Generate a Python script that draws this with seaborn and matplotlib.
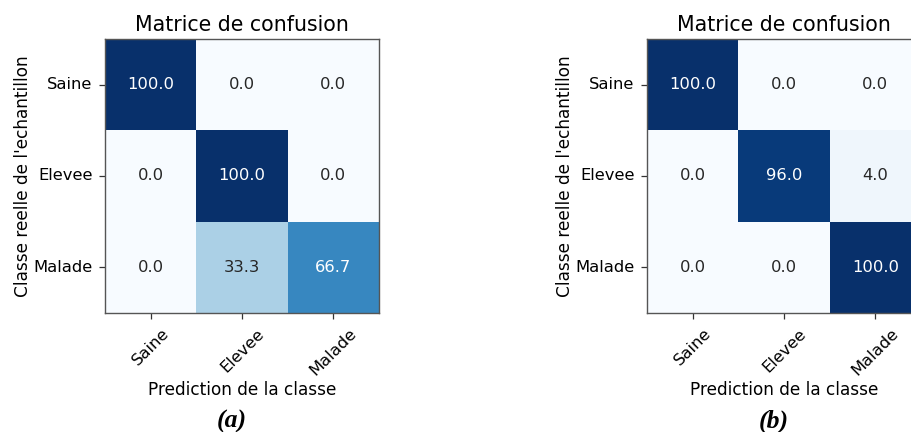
import numpy as np
import matplotlib
matplotlib.use("Agg")
import matplotlib.pyplot as plt
import seaborn as sns

classes = ["Saine", "Elevee", "Malade"]

# Row-normalised confusion matrices (percent)
cm_a = [[100.0, 0.0, 0.0],
        [0.0, 100.0, 0.0],
        [0.0, 33.3, 66.7]]
cm_b = [[100.0, 0.0, 0.0],
        [0.0, 96.0, 4.0],
        [0.0, 0.0, 100.0]]

panel_labels = ["(a)", "(b)"]

sns.set_style("white")
plt.rcParams["font.family"] = ["DejaVu Sans"]
plt.rcParams["text.color"] = "black"
plt.rcParams["axes.labelcolor"] = "black"
plt.rcParams["xtick.color"] = "black"
plt.rcParams["ytick.color"] = "black"

fig = plt.figure(figsize=(9.11, 4.32), dpi=100)

W, H = 911.0, 432.0
ax_px = [(105, 39), (647, 39)]
size_px = 274
caption_x = [232, 774]

for (x0, y0), cm, lab, cx in zip(ax_px, [cm_a, cm_b], panel_labels, caption_x):
    ax = fig.add_axes([x0 / W, (H - y0 - size_px) / H, size_px / W, size_px / H])
    data = np.array(cm)
    sns.heatmap(data, cmap="Blues", vmin=0, vmax=100, annot=True, fmt=".1f",
                cbar=False, ax=ax, linewidths=0,
                annot_kws={"fontsize": 11.8})
    ax.set_title("Matrice de confusion", fontsize=14.8, pad=6, color="black")
    ax.set_xticks(np.arange(len(classes)) + 0.5)
    ax.set_yticks(np.arange(len(classes)) + 0.5)
    ax.set_xticklabels(classes, rotation=45, ha="center", fontsize=11.8)
    ax.set_yticklabels(classes, rotation=0, fontsize=11.8)
    ax.tick_params(axis="both", which="both", length=4.5, width=0.9,
                   color="#333333", labelcolor="black",
                   bottom=True, left=True, pad=4.5)
    ax.set_xlabel("Prediction de la classe", fontsize=12.2, labelpad=2)
    ax.set_ylabel("Classe reelle de l'echantillon", fontsize=12.2, labelpad=1)
    for sp in ax.spines.values():
        sp.set_visible(True)
        sp.set_color("#555555")
        sp.set_linewidth(1.0)
    fig.text(cx / W, (H - 421) / H, lab, ha="center", va="center",
             fontsize=18.5, fontweight="bold", fontstyle="italic",
             family=["Liberation Serif", "DejaVu Serif"])

fig.savefig("out.png", dpi=100)
